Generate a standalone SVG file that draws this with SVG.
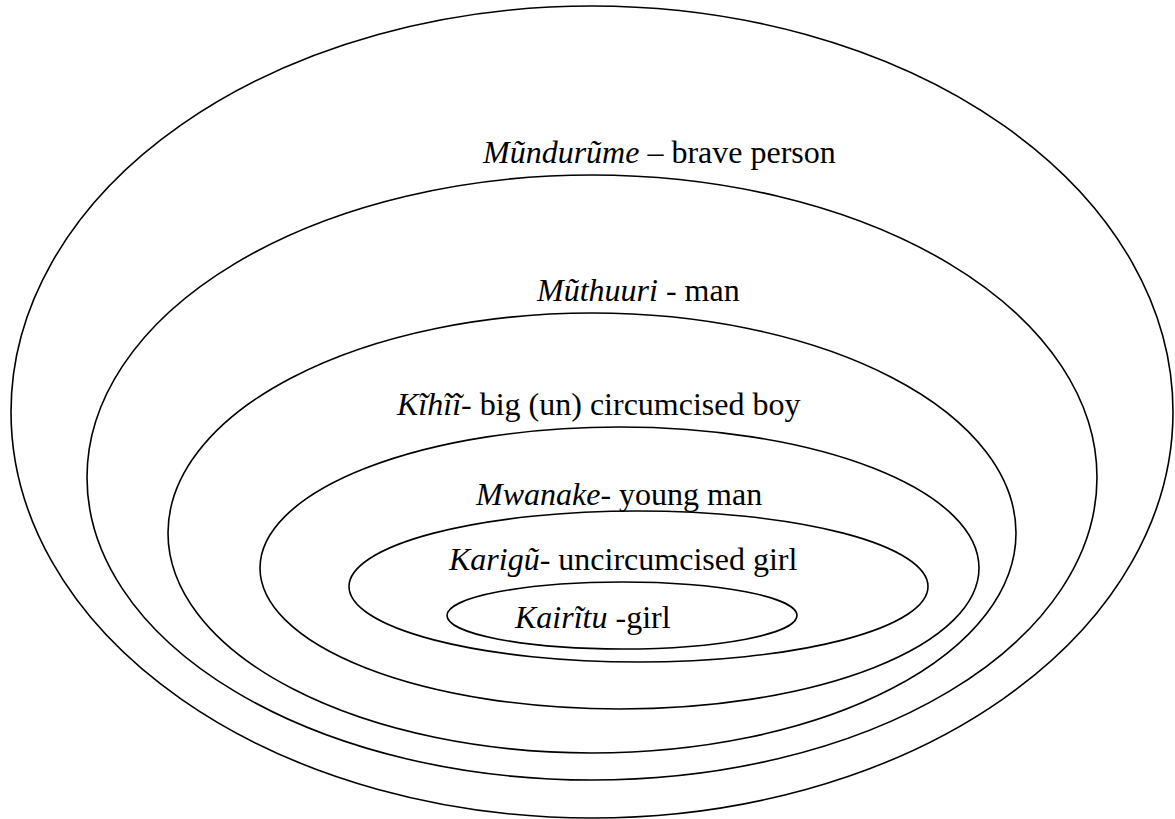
<svg xmlns="http://www.w3.org/2000/svg" width="1175" height="819" viewBox="0 0 1175 819">
  <style>
    .ring { fill: none; stroke: #000; stroke-width: 1.6; }
    .lbl { font-family: "Liberation Serif", "Times New Roman", serif; font-size: 32px; fill: #000; }
    .it { font-style: italic; }
  </style>
  <rect width="1175" height="819" fill="#fff"/>
  <g id="mundurume">
    <ellipse class="ring" cx="592" cy="412" rx="581" ry="406"/>
    <text class="lbl" x="483" y="163"><tspan class="it">Mũndurũme</tspan> – brave person</text>
  </g>
  <g id="muthuuri">
    <ellipse class="ring" cx="592" cy="477.5" rx="505" ry="302.5"/>
    <text class="lbl" x="537" y="301"><tspan class="it">Mũthuuri</tspan> - man</text>
  </g>
  <g id="kihii">
    <ellipse class="ring" cx="592" cy="533" rx="424" ry="220"/>
    <text class="lbl" x="397" y="415"><tspan class="it">Kĩhĩĩ</tspan>- big (un) circumcised boy</text>
  </g>
  <g id="mwanake">
    <ellipse class="ring" cx="619.5" cy="568" rx="359.5" ry="141"/>
    <text class="lbl" x="476" y="505"><tspan class="it">Mwanake</tspan>- young man</text>
  </g>
  <g id="karigu">
    <ellipse class="ring" cx="638.5" cy="586.5" rx="289.5" ry="75.5"/>
    <text class="lbl" x="449" y="570"><tspan class="it">Karigũ</tspan>- uncircumcised girl</text>
  </g>
  <g id="kairitu">
    <ellipse class="ring" cx="622" cy="615.5" rx="175" ry="33.5"/>
    <text class="lbl" x="515" y="628"><tspan class="it">Kairĩtu</tspan> -girl</text>
  </g>
</svg>
